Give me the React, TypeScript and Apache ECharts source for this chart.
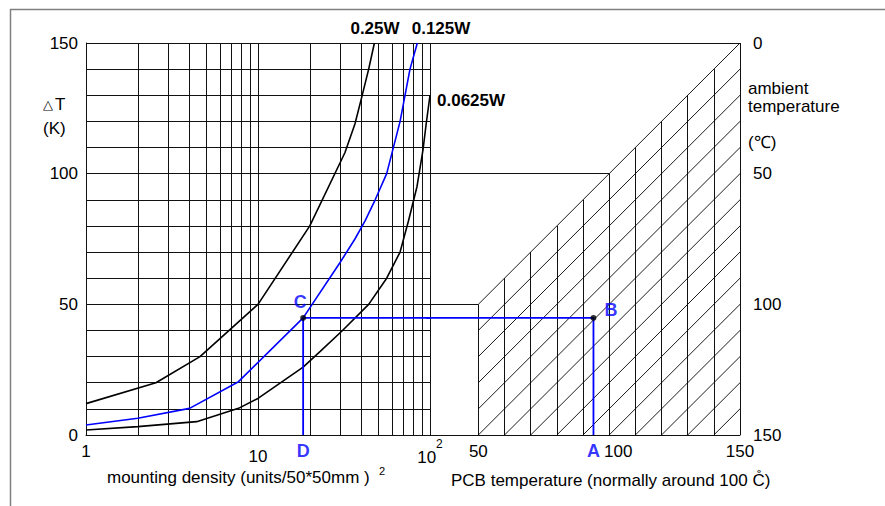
import React, { useEffect, useRef } from 'react';
import * as echarts from 'echarts';

// ---------------- data ----------------
const densityMin = 1;
const densityMax = 100;
const densityMinorLines = [2, 3, 4, 5, 6, 7, 8, 9, 20, 30, 40, 50, 60, 70, 80, 90];
const deltaTMin = 0;
const deltaTMax = 150;
const deltaTStep = 10;
const deltaTLabels = [0, 50, 100, 150];
const pcbMin = 30;
const pcbMax = 150;
const pcbGridTemps = [50, 60, 70, 80, 90, 100, 110, 120, 130, 140, 150];
const pcbLabels = [50, 100, 150];
const ambientHatch = [0, 10, 20, 30, 40, 50, 60, 70, 80, 90, 100, 110, 120, 130, 140];
const ambientLabels = [0, 50, 100, 150];
const sharedRows = [50, 100, 150];

const seriesNames = ['0.25W', '0.125W', '0.0625W'];
// [mounting density, ΔT]
const curve025W = [
  [1, 12], [2.55, 20], [4.6, 30], [10, 50], [20, 80], [32, 108], [36.6, 119], [40, 129], [44, 140], [47.5, 150],
];
const curve0125W = [
  [1, 3.8], [2, 6.4], [4, 10.2], [7.7, 20.4], [18.3, 44.8], [30, 66], [36.6, 75], [42, 82], [48, 90], [56, 100],
  [67, 120], [76.5, 140], [84.4, 150],
];
const curve00625W = [
  [1, 1.9], [2, 3.2], [4.4, 5.1], [7.7, 10.2], [10, 14], [18.3, 26], [23, 32], [31, 40], [44, 50], [56, 60],
  [67, 70], [75, 82], [84, 95], [91, 109], [95, 119], [100, 130],
];

const exampleDensity = 18.3; // D
const exampleDeltaT = 44.8; // C / B
const examplePcbTemp = 94; // A

// ---------------- styles ----------------
const FONT = '"Liberation Sans", Arial, Helvetica, sans-serif';
const GRID = '#111';
const BLUE = '#0000ff';
const LBLUE = '#0000ff';

function buildOption() {
  const lineSeg = (coords: number[][]) => ({ coords });

  const minorLines = densityMinorLines.map((v) => lineSeg([[v, deltaTMin], [v, deltaTMax]]));
  const pcbVerticals = pcbGridTemps.map((t) => lineSeg([[t, deltaTMin], [t, t]]));
  const first = pcbGridTemps[0];
  const hatch = ambientHatch.map((ta) =>
    lineSeg([ta <= first ? [first, first - ta] : [ta, deltaTMin], [pcbMax, pcbMax - ta]])
  );
  const rows = sharedRows.map((r) => lineSeg([[pcbMin, r], [r, r]]));

  const axisFont = { fontFamily: FONT, fontSize: 17, color: '#000' };
  const curveData = [curve025W, curve0125W, curve00625W];
  const curveColors = ['#000', BLUE, '#000'];

  const pointLabel = {
    show: true,
    formatter: '{b}',
    fontFamily: FONT,
    fontSize: 18,
    fontWeight: 'bold' as const,
    color: LBLUE,
  };

  return {
    animation: false,
    backgroundColor: '#fff',
    grid: [
      { left: 86, right: 455, top: 43, bottom: 71, containLabel: false, outerBoundsMode: 'none' },
      { left: 426, right: 145, top: 43, bottom: 71, containLabel: false, outerBoundsMode: 'none' },
    ],
    xAxis: [
      {
        type: 'log',
        logBase: 10,
        gridIndex: 0,
        min: densityMin,
        max: densityMax,
        axisLine: { show: true, lineStyle: { color: GRID, width: 1 } },
        axisTick: { show: false },
        splitLine: { show: true, lineStyle: { color: GRID, width: 1 } },
        axisLabel: {
          ...axisFont,
          margin: 3,
          showMinLabel: true,
          showMaxLabel: true,
          formatter: (v: number) =>
            v === densityMax ? '{b|10}{s|2}' : v === densityMin ? '{n|' + v + '}' : '{m|' + v + '}',
          rich: {
            n: { fontFamily: FONT, fontSize: 17, color: '#000', padding: [5, 0, 0, 0] },
            m: { fontFamily: FONT, fontSize: 17, color: '#000', padding: [10, 0, 0, 0] },
            b: { fontFamily: FONT, fontSize: 17, color: '#000', verticalAlign: 'bottom' },
            s: { fontFamily: FONT, fontSize: 12, color: '#000', verticalAlign: 'top', padding: [0, 0, 16, 0] },
          },
        },
      },
      {
        type: 'value',
        gridIndex: 1,
        min: pcbMin,
        max: pcbMax,
        interval: 10,
        axisLine: { show: true, lineStyle: { color: GRID, width: 1 } },
        axisTick: { show: false },
        splitLine: { show: false },
        axisLabel: {
          ...axisFont,
          margin: 8,
          showMinLabel: true,
          showMaxLabel: true,
          formatter: (v: number) =>
            pcbLabels.includes(v) ? (v === 100 ? '{r|' + v + '}' : String(v)) : '',
          rich: {
            r: { fontFamily: FONT, fontSize: 17, color: '#000', padding: [0, 0, 0, 18] },
          },
        },
      },
    ],
    yAxis: [
      {
        type: 'value',
        gridIndex: 0,
        min: deltaTMin,
        max: deltaTMax,
        interval: deltaTStep,
        axisLine: { show: true, lineStyle: { color: GRID, width: 1 } },
        axisTick: { show: false },
        splitLine: { show: true, lineStyle: { color: GRID, width: 1 } },
        axisLabel: {
          ...axisFont,
          margin: 8,
          formatter: (v: number) => (deltaTLabels.includes(v) ? String(v) : ''),
        },
      },
      {
        type: 'value',
        gridIndex: 1,
        min: deltaTMin,
        max: deltaTMax,
        show: false,
        splitLine: { show: false },
      },
      {
        type: 'value',
        gridIndex: 1,
        position: 'right',
        inverse: true,
        min: 0,
        max: 150,
        interval: 50,
        axisLine: { show: false },
        axisTick: { show: false },
        splitLine: { show: false },
        axisLabel: {
          ...axisFont,
          margin: 13,
          formatter: (v: number) => (ambientLabels.includes(v) ? String(v) : ''),
        },
      },
    ],
    series: [
      {
        type: 'lines',
        coordinateSystem: 'cartesian2d',
        xAxisIndex: 0,
        yAxisIndex: 0,
        silent: true,
        z: 1,
        lineStyle: { color: GRID, width: 1, opacity: 1 },
        data: minorLines,
      },
      {
        type: 'lines',
        coordinateSystem: 'cartesian2d',
        xAxisIndex: 1,
        yAxisIndex: 1,
        silent: true,
        z: 1,
        lineStyle: { color: GRID, width: 1, opacity: 1 },
        data: pcbVerticals,
      },
      {
        type: 'lines',
        coordinateSystem: 'cartesian2d',
        xAxisIndex: 1,
        yAxisIndex: 1,
        silent: true,
        z: 1,
        lineStyle: { color: '#000', width: 0.9, opacity: 1 },
        data: hatch,
      },
      {
        type: 'lines',
        coordinateSystem: 'cartesian2d',
        xAxisIndex: 1,
        yAxisIndex: 1,
        silent: true,
        z: 1,
        lineStyle: { color: GRID, width: 1, opacity: 1 },
        data: rows,
      },
      ...curveData.map((d, i) => ({
        type: 'line',
        name: seriesNames[i],
        xAxisIndex: 0,
        yAxisIndex: 0,
        data: d,
        showSymbol: false,
        symbol: 'none',
        z: 3,
        lineStyle: { color: curveColors[i], width: 1.6 },
        itemStyle: { color: curveColors[i] },
      })),
      {
        type: 'lines',
        coordinateSystem: 'cartesian2d',
        xAxisIndex: 0,
        yAxisIndex: 0,
        polyline: true,
        silent: true,
        z: 4,
        lineStyle: { color: BLUE, width: 1.8, opacity: 1 },
        data: [
          lineSeg([
            [exampleDensity, deltaTMin],
            [exampleDensity, exampleDeltaT],
            [densityMax, exampleDeltaT],
          ]),
        ],
      },
      {
        type: 'lines',
        coordinateSystem: 'cartesian2d',
        xAxisIndex: 1,
        yAxisIndex: 1,
        polyline: true,
        silent: true,
        z: 4,
        lineStyle: { color: BLUE, width: 1.8, opacity: 1 },
        data: [
          lineSeg([
            [pcbMin, exampleDeltaT],
            [examplePcbTemp, exampleDeltaT],
            [examplePcbTemp, deltaTMin],
          ]),
        ],
      },
      {
        type: 'scatter',
        xAxisIndex: 0,
        yAxisIndex: 0,
        z: 5,
        itemStyle: { color: '#000' },
        data: [
          {
            name: 'C',
            value: [exampleDensity, exampleDeltaT],
            symbolSize: 6,
            label: { ...pointLabel, position: 'top', distance: 4, offset: [-3, 0] },
          },
          {
            name: 'D',
            value: [exampleDensity, deltaTMin],
            symbolSize: 0,
            label: { ...pointLabel, position: 'bottom', distance: 7 },
          },
        ],
      },
      {
        type: 'scatter',
        xAxisIndex: 1,
        yAxisIndex: 1,
        z: 5,
        itemStyle: { color: '#000' },
        data: [
          {
            name: 'B',
            value: [examplePcbTemp, exampleDeltaT],
            symbolSize: 6,
            label: { ...pointLabel, position: 'right', distance: 8, offset: [0, -8] },
          },
          {
            name: 'A',
            value: [examplePcbTemp, deltaTMin],
            symbolSize: 0,
            label: { ...pointLabel, position: 'bottom', distance: 7 },
          },
        ],
      },
    ],
    graphic: [
      { type: 'line', silent: true, shape: { x1: 10, y1: 9.5, x2: 885, y2: 9.5 }, style: { stroke: '#808080', lineWidth: 1.5 } },
      { type: 'line', silent: true, shape: { x1: 10.5, y1: 9, x2: 10.5, y2: 506 }, style: { stroke: '#808080', lineWidth: 1.5 } },
      { type: 'text', x: 43, y: 104, style: { text: '△', fontFamily: FONT, fontSize: 13, fill: '#000', verticalAlign: 'middle' } },
      { type: 'text', x: 55, y: 104, style: { text: 'T', fontFamily: FONT, fontSize: 17, fill: '#000', verticalAlign: 'middle' } },
      { type: 'text', x: 43, y: 128, style: { text: '(K)', fontFamily: FONT, fontSize: 17, fill: '#000', verticalAlign: 'middle' } },
      { type: 'text', x: 748, y: 88, style: { text: 'ambient', fontFamily: FONT, fontSize: 17, fill: '#000', verticalAlign: 'middle' } },
      { type: 'text', x: 748, y: 106, style: { text: 'temperature', fontFamily: FONT, fontSize: 17, fill: '#000', verticalAlign: 'middle' } },
      { type: 'text', x: 748, y: 142, style: { text: '(℃)', fontFamily: FONT, fontSize: 17, fill: '#000', verticalAlign: 'middle' } },
      { type: 'text', x: 107, y: 477, style: { text: 'mounting density (units/50*50mm )', fontFamily: FONT, fontSize: 17, fill: '#000', verticalAlign: 'middle' } },
      { type: 'text', x: 379, y: 471, style: { text: '2', fontFamily: FONT, fontSize: 11, fill: '#000', verticalAlign: 'middle' } },
      { type: 'text', x: 451, y: 480, style: { text: 'PCB temperature (normally around 100 C\u030A)', fontFamily: FONT, fontSize: 17, fill: '#000', verticalAlign: 'middle' } },
      { type: 'text', x: 375, y: 28, style: { text: seriesNames[0], fontFamily: FONT, fontSize: 17, fontWeight: 'bold', fill: '#000', align: 'center', verticalAlign: 'middle' } },
      { type: 'text', x: 441, y: 28, style: { text: seriesNames[1], fontFamily: FONT, fontSize: 17, fontWeight: 'bold', fill: '#000', align: 'center', verticalAlign: 'middle' } },
      { type: 'text', x: 437, y: 100, style: { text: seriesNames[2], fontFamily: FONT, fontSize: 17, fontWeight: 'bold', fill: '#000', verticalAlign: 'middle' } },
    ],
  };
}

export default function App() {
  const ref = useRef<HTMLDivElement>(null);
  useEffect(() => {
    document.body.style.margin = '0';
    const chart = echarts.init(ref.current as HTMLDivElement, null, { renderer: 'svg' });
    chart.setOption(buildOption() as any);
    return () => chart.dispose();
  }, []);
  return (
    <div
      ref={ref}
      style={{ width: 885, height: 506, position: 'absolute', left: 0, top: 0, background: '#fff' }}
    />
  );
}
